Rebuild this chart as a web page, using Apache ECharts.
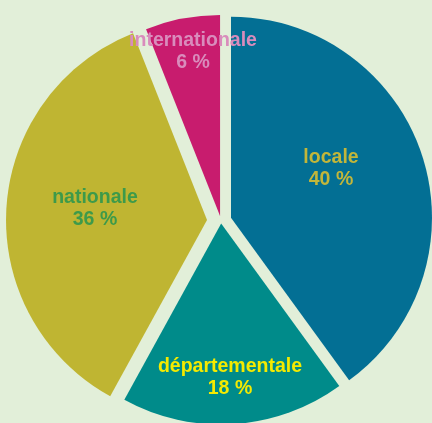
<!DOCTYPE html>
<html>
<head>
<meta charset="utf-8">
<script src="https://cdn.jsdelivr.net/npm/echarts@6/dist/echarts.min.js"></script>
<style>
  html, body { margin: 0; padding: 0; background: #e2efd9; overflow: hidden; }
  #chart { width: 432px; height: 423px; }
</style>
</head>
<body>
<div id="chart"></div>
<script>
const categories = ['locale', 'départementale', 'nationale', 'internationale'];
const values = [40, 18, 36, 6];
const sliceColors = ['#036f94', '#008b8a', '#bfb532', '#c81c6e'];
const labelColors = ['#c2b63a', '#f4ea00', '#3d9a4a', '#d98cbc'];

// how far each slice is pulled out of the pie (px)
const explode = [10.5, 2.5, 14, 5];
// label centres (px)
const labelAnchors = [[331, 169], [230, 378], [95, 209], [193, 52]];

const baseCenter = [221, 221];
const radius = 201;

const total = values.reduce((a, b) => a + b, 0);
let acc = 0;
const midAngles = values.map((v) => {
  const mid = (acc + v / 2) / total * Math.PI * 2;
  acc += v;
  return mid; // clockwise from 12 o'clock
});

const chart = echarts.init(document.getElementById('chart'));

// one pie per slice so every slice can be pulled out by its own amount
const series = categories.map((cat, i) => ({
  type: 'pie',
  center: [
    baseCenter[0] + explode[i] * Math.sin(midAngles[i]),
    baseCenter[1] - explode[i] * Math.cos(midAngles[i]),
  ],
  radius: radius,
  startAngle: 90,
  clockwise: true,
  silent: true,
  emphasis: { disabled: true },
  labelLine: { show: false },
  label: {
    position: 'inside',
    fontFamily: 'Liberation Sans',
    fontWeight: 'bold',
    fontSize: 19.5,
    lineHeight: 22,
    formatter: (p) => p.name + '\n' + p.value + ' %',
  },
  labelLayout: (p) => ({
    x: labelAnchors[p.dataIndex][0],
    y: labelAnchors[p.dataIndex][1],
    align: 'center',
    verticalAlign: 'middle',
  }),
  data: categories.map((name, j) => ({
    name: name,
    value: values[j],
    itemStyle: { color: j === i ? sliceColors[j] : 'rgba(0,0,0,0)' },
    label: { show: j === i, color: labelColors[j] },
  })),
}));

chart.setOption({ animation: false, series: series });
</script>
</body>
</html>
